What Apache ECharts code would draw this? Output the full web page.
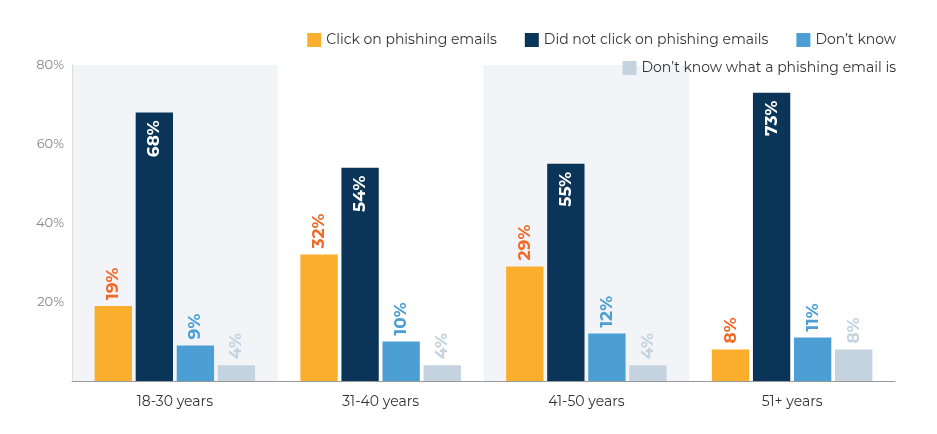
<!DOCTYPE html><html><head><meta charset="utf-8">
<script src="https://cdn.jsdelivr.net/npm/echarts@6/dist/echarts.min.js"></script>
<style>html,body{margin:0;background:#fff}#c{width:937px;height:434px}</style></head><body><div id="c"></div>
<script>
const categories=['18-30 years','31-40 years','41-50 years','51+ years'];
const clickVals=[19,32,29,8];
const noClickVals=[68,54,55,73];
const dontKnowVals=[9,10,12,11];
const dontKnowWhatVals=[4,4,4,8];
const yTicks=[0,20,40,60,80];
const F='Montserrat, "Open Sans", sans-serif';
function lab(color,inside){return {show:true,position:inside?'insideTop':'top',rotate:90,align:inside?'right':'left',verticalAlign:'middle',distance:inside?8:6,color:color,fontFamily:F,fontSize:17,fontWeight:'bold',formatter:'{c}%'};}
const series=[
{name:'Click on phishing emails',data:clickVals,color:'#fbae2d',lab:lab('#f26a2a',false)},
{name:'Did not click on phishing emails',data:noClickVals,color:'#0b3558',lab:lab('#ffffff',true)},
{name:"Don’t know",data:dontKnowVals,color:'#4b9fd5',lab:lab('#4b9fd5',false)},
{name:"Don’t know what a phishing email is",data:dontKnowWhatVals,color:'#c4d3df',lab:lab('#c4d3df',false)}
].map(s=>({type:'bar',name:s.name,data:s.data,itemStyle:{color:s.color},label:s.lab,barGap:'10%',barCategoryGap:'22%'}));
const chart=echarts.init(document.getElementById('c'));
const legText={fontFamily:F,fontSize:14,color:'#333'};
chart.setOption({
animation:false,
legend:[
{data:series.slice(0,3).map(s=>s.name),right:36,top:28,itemWidth:14,itemHeight:14,itemGap:28,icon:'rect',textStyle:legText},
{data:[series[3].name],right:36,top:56,itemWidth:14,itemHeight:14,icon:'rect',textStyle:legText}],
grid:{left:72,right:42,top:65,bottom:53},
xAxis:{type:'category',data:categories,axisTick:{show:false},axisLine:{lineStyle:{color:'#999'}},
axisLabel:{fontFamily:F,fontSize:14,color:'#333',margin:14},
splitArea:{show:true,areaStyle:{color:['#f2f4f7','rgba(255,255,255,0)']}}},
yAxis:{type:'value',min:yTicks[0],max:yTicks[yTicks.length-1],interval:20,splitLine:{show:false},
axisLine:{show:true,lineStyle:{color:'#ddd'}},
axisLabel:{fontFamily:F,fontSize:13,color:'#888',formatter:v=>v===0?'':v+'%'}},
series:series});
</script></body></html>
